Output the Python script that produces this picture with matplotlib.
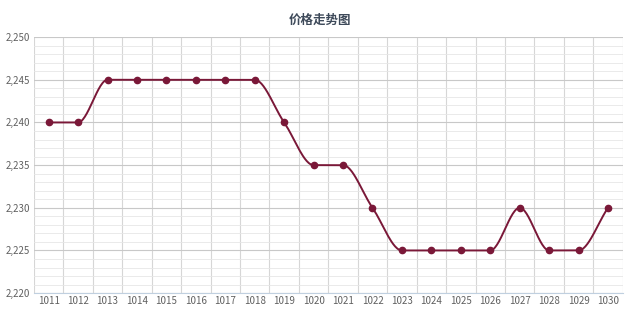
import numpy as np
import matplotlib
matplotlib.use("Agg")
from matplotlib import pyplot as plt
from matplotlib.ticker import MultipleLocator, FuncFormatter

plt.rcParams['font.family'] = ['Noto Sans CJK SC', 'DejaVu Sans']

# data
days = ['1011', '1012', '1013', '1014', '1015', '1016', '1017', '1018', '1019', '1020',
        '1021', '1022', '1023', '1024', '1025', '1026', '1027', '1028', '1029', '1030']
prices = [2240, 2240, 2245, 2245, 2245, 2245, 2245, 2245, 2240, 2235,
          2235, 2230, 2225, 2225, 2225, 2225, 2230, 2225, 2225, 2230]
title = '价格走势图'
line_color = '#7a1838'


def smooth(x, y, n=30):
    # monotone cubic (Fritsch-Carlson) only for drawing the curve between the points
    x = np.asarray(x, float)
    y = np.asarray(y, float)
    h = np.diff(x)
    d = np.diff(y) / h
    m = np.zeros_like(y)
    m[0], m[-1] = d[0], d[-1]
    for i in range(1, len(y) - 1):
        if d[i - 1] * d[i] > 0:
            w1 = 2 * h[i] + h[i - 1]
            w2 = h[i] + 2 * h[i - 1]
            m[i] = (w1 + w2) / (w1 / d[i - 1] + w2 / d[i])
    xs, ys = [], []
    for i in range(len(x) - 1):
        t = np.linspace(0, 1, n, endpoint=False)
        h00 = 2 * t**3 - 3 * t**2 + 1
        h10 = t**3 - 2 * t**2 + t
        h01 = -2 * t**3 + 3 * t**2
        h11 = t**3 - t**2
        xs.append(x[i] + t * h[i])
        ys.append(h00 * y[i] + h10 * h[i] * m[i] + h01 * y[i + 1] + h11 * h[i] * m[i + 1])
    xs.append([x[-1]])
    ys.append([y[-1]])
    return np.concatenate(xs), np.concatenate(ys)


fig = plt.figure(figsize=(6.4, 3.2), dpi=100)
ax = fig.add_axes([0.053, 0.084, 0.92, 0.8])

pos = np.arange(len(days))
sx, sy = smooth(pos, prices)
ax.plot(sx, sy, color=line_color, lw=1.4, zorder=3)
ax.plot(pos, prices, 'o', color=line_color, ms=4.5, zorder=4)

ax.set_xlim(-0.5, len(days) - 0.5)
ax.set_ylim(2220, 2250)
ax.set_xticks(pos)
ax.set_xticklabels(days)
ax.yaxis.set_major_locator(MultipleLocator(5))
ax.yaxis.set_minor_locator(MultipleLocator(1))
ax.yaxis.set_major_formatter(FuncFormatter(lambda v, p: '{:,.0f}'.format(v)))

# vertical grid on category edges
for b in np.arange(-0.5, len(days), 1):
    ax.axvline(b, color='#d6d6d6', lw=0.8, zorder=1)
ax.grid(True, axis='y', which='major', color='#c8c8c8', lw=0.8, zorder=1)
ax.grid(True, axis='y', which='minor', color='#e6e6e6', lw=0.6, zorder=1)

for s in ['top', 'right', 'left']:
    ax.spines[s].set_visible(False)
ax.spines['bottom'].set_color('#c0d0e0')
ax.tick_params(axis='both', which='both', length=0, colors='#606060', labelsize=7)
ax.tick_params(axis='x', pad=2)
ax.tick_params(axis='y', pad=3)

fig.text(0.5, 0.935, title, ha='center', va='center', fontsize=9, color='#3e4a5a', fontweight='bold')

fig.savefig('out.png', dpi=100)
